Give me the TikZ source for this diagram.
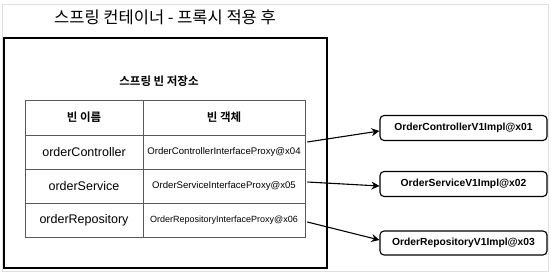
\documentclass[tikz,border=0pt]{standalone}
\usepackage{fontspec}
\setmainfont{Liberation Sans}
\newfontfamily\kr{Noto Sans CJK KR}[BoldFont={Noto Sans CJK KR Bold}]
\usetikzlibrary{arrows.meta}
\begin{document}
\begin{tikzpicture}[
  x=1pt, y=-1pt,
  every node/.style={align=center, inner sep=0pt},
  pcell/.style={draw=black!65, line width=0.6pt, minimum height=34pt},
  pname/.style={pcell, minimum width=118pt, font=\fontsize{12.5}{14}\selectfont},
  pobj/.style={pcell, minimum width=162pt, font=\fontsize{9.6}{11}\selectfont},
  phead/.style={pcell, minimum height=35pt, font=\kr\bfseries\fontsize{11.5}{13}\selectfont},
  pimpl/.style={draw=black, rounded corners=4pt, line width=1.1pt,
                minimum width=167pt, minimum height=25pt, font=\bfseries\fontsize{10.3}{12}\selectfont},
  plink/.style={-{Stealth[length=8pt, width=8pt]}, line width=1.1pt}
]
\useasboundingbox (0,0) rectangle (551,275);
\draw[black!12, line width=0.8pt] (2,4) rectangle (548,271);
\node[font=\kr\fontsize{16.5}{18}\selectfont] (title) at (165,17) {스프링 컨테이너 - 프록시 적용 후};
\node[draw, line width=1.4pt, minimum width=323pt, minimum height=230pt] (cont) at (165.5,153) {};
\node[font=\kr\bfseries\fontsize{11.5}{13}\selectfont] (store) at (159,81) {스프링 빈 저장소};
% table
\node[phead, minimum width=118pt] (h1) at (84,117.5) {빈 이름};
\node[phead, minimum width=162pt] (h2) at (224,117.5) {빈 객체};
\node[pname] (n1) at (84,152) {orderController};
\node[pobj] (o1) at (224,152) {OrderControllerInterfaceProxy@x04};
\node[pname] (n2) at (84,186) {orderService};
\node[pobj] (o2) at (224,186) {OrderServiceInterfaceProxy@x05};
\node[pname] (n3) at (84,220) {orderRepository};
\node[pobj, font=\fontsize{9}{11}\selectfont] (o3) at (224,220) {OrderRepositoryInterfaceProxy@x06};
% real objects
\node[pimpl] (i1) at (463.5,128) {OrderControllerV1Impl@x01};
\node[pimpl] (i2) at (463.5,184) {OrderServiceV1Impl@x02};
\node[pimpl, minimum height=24pt] (i3) at (463.5,243) {OrderRepositoryV1Impl@x03};
\draw[plink] ([shift={(2pt,10pt)}]o1.east) -- ([yshift=-3pt]i1.west);
\draw[plink] ([shift={(2pt,4pt)}]o2.east) -- ([yshift=-2pt]i2.west);
\draw[plink] ([shift={(2pt,-2pt)}]o3.east) -- ([yshift=3pt]i3.west);
\end{tikzpicture}
\end{document}
